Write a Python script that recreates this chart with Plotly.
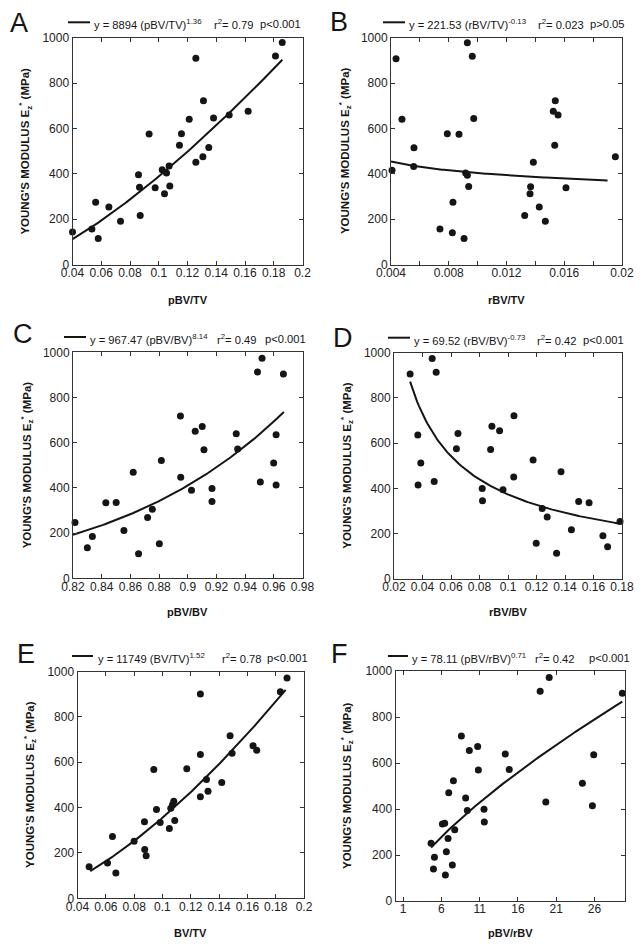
import numpy as np
import plotly.graph_objects as go

W, H = 643, 948

# ---------------- data ----------------
a_x = [0.0400, 0.0535, 0.0561, 0.0579, 0.0653, 0.0734, 0.0859, 0.0866, 0.0871, 0.0933,
       0.0975, 0.1024, 0.1040, 0.1054, 0.1072, 0.1077, 0.1144, 0.1158, 0.1212, 0.1258,
       0.1258, 0.1307, 0.1311, 0.1348, 0.1381, 0.1490, 0.1622, 0.1812, 0.1859]
a_y = [143, 157, 275, 115, 253, 191, 396, 341, 216, 575, 338, 418, 312, 403, 434, 346,
       526, 576, 640, 909, 451, 475, 722, 516, 646, 659, 676, 919, 979]

b_x = [0.00407, 0.00435, 0.00476, 0.00559, 0.00557, 0.00739, 0.00790, 0.00825, 0.00829,
       0.00871, 0.00906, 0.00917, 0.00929, 0.00929, 0.00938, 0.00963, 0.00973, 0.01326,
       0.01363, 0.01367, 0.01386, 0.01427, 0.01469, 0.01524, 0.01534, 0.01538, 0.01557,
       0.01612, 0.01954]
b_y = [416, 907, 640, 515, 432, 157, 576, 140, 275, 574, 115, 403, 394, 978, 344, 918,
       644, 216, 312, 343, 451, 254, 191, 676, 526, 722, 659, 338, 475]

c_x = [0.8214, 0.8300, 0.8335, 0.8429, 0.8501, 0.8555, 0.8620, 0.8657, 0.8720, 0.8753,
       0.8802, 0.8816, 0.8949, 0.8951, 0.9026, 0.9052, 0.9101, 0.9113, 0.9169, 0.9169,
       0.9338, 0.9348, 0.9486, 0.9506, 0.9518, 0.9599, 0.9616, 0.9616, 0.9667]
c_y = [247, 135, 185, 334, 335, 212, 469, 109, 269, 306, 153, 521, 718, 447, 390, 651,
       672, 569, 397, 340, 640, 572, 913, 426, 974, 510, 635, 413, 904]

d_x = [0.0313, 0.0367, 0.0369, 0.0388, 0.0468, 0.0482, 0.0496, 0.0638, 0.0649, 0.0819,
       0.0821, 0.0878, 0.0887, 0.0941, 0.0965, 0.1042, 0.1040, 0.1176, 0.1198, 0.1240,
       0.1275, 0.1341, 0.1372, 0.1445, 0.1496, 0.1569, 0.1666, 0.1699, 0.1786]
d_y = [905, 636, 415, 512, 974, 430, 913, 575, 642, 400, 345, 572, 674, 655, 394, 721,
       450, 525, 158, 311, 274, 114, 474, 217, 342, 337, 191, 142, 254]

e_x = [0.0482, 0.0612, 0.0647, 0.0671, 0.0800, 0.0873, 0.0875, 0.0885, 0.0939, 0.0958,
       0.0984, 0.1049, 0.1059, 0.1071, 0.1080, 0.1087, 0.1172, 0.1268, 0.1268, 0.1268,
       0.1311, 0.1322, 0.1419, 0.1478, 0.1492, 0.1640, 0.1666, 0.1833, 0.1880]
e_y = [139, 156, 272, 112, 251, 337, 215, 188, 568, 391, 334, 308, 397, 413, 428, 343,
       571, 901, 634, 448, 524, 472, 511, 717, 639, 673, 653, 911, 971]

f_x = [4.65, 4.96, 5.09, 6.13, 6.43, 6.52, 6.65, 6.87, 6.96, 7.43, 7.57, 7.74, 8.61, 9.17,
       9.39, 9.65, 10.74, 10.83, 11.57, 11.61, 14.35, 14.87, 18.91, 19.65, 20.09, 24.43,
       25.74, 25.91, 29.65]
f_y = [251, 139, 190, 335, 338, 113, 214, 272, 471, 157, 523, 310, 717, 448, 393, 654,
       672, 570, 399, 343, 639, 572, 912, 430, 972, 512, 414, 636, 903]

# power-law fits y = k * x^n (as printed in each panel), and x-span of each fitted line
fit_k = [8894, 221.53, 967.47, 69.52, 11749, 78.11]
fit_n = [1.36, -0.13, 8.14, -0.73, 1.52, 0.71]
fit_lo = [0.0400, 0.0040, 0.8200, 0.0313, 0.0490, 4.65]
fit_hi = [0.1860, 0.0190, 0.9670, 0.1780, 0.1870, 29.65]

letters = ["A", "B", "C", "D", "E", "F"]
x_titles = ["pBV/TV", "rBV/TV", "pBV/BV", "rBV/BV", "BV/TV", "pBV/rBV"]
eq_texts = ["y = 8894 (pBV/TV)<sup>1.36</sup>",
            "y = 221.53 (rBV/TV)<sup>-0.13</sup>",
            "y = 967.47 (pBV/BV)<sup>8.14</sup>",
            "y = 69.52 (rBV/BV)<sup>-0.73</sup>",
            "y = 11749 (BV/TV)<sup>1.52</sup>",
            "y = 78.11 (pBV/rBV)<sup>0.71</sup>"]
r2_texts = ["0.79", "0.023", "0.49", "0.42", "0.78", "0.42"]
p_texts = ["p&lt;0.001", "p&gt;0.05", "p&lt;0.001", "p&lt;0.001", "p&lt;0.001", "p&lt;0.001"]

x_ranges = [[0.04, 0.2], [0.004, 0.02], [0.82, 0.98], [0.02, 0.18], [0.04, 0.2], [0, 30]]
x_tickvals = [[0.04, 0.06, 0.08, 0.1, 0.12, 0.14, 0.16, 0.18, 0.2],
              [0.004, 0.008, 0.012, 0.016, 0.02],
              [0.82, 0.84, 0.86, 0.88, 0.9, 0.92, 0.94, 0.96, 0.98],
              [0.02, 0.04, 0.06, 0.08, 0.1, 0.12, 0.14, 0.16, 0.18],
              [0.04, 0.06, 0.08, 0.1, 0.12, 0.14, 0.16, 0.18, 0.2],
              [1, 6, 11, 16, 21, 26]]
x_ticktext = [["0.04", "0.06", "0.08", "0.1", "0.12", "0.14", "0.16", "0.18", "0.2"],
              ["0.004", "0.008", "0.012", "0.016", "0.02"],
              ["0.82", "0.84", "0.86", "0.88", "0.9", "0.92", "0.94", "0.96", "0.98"],
              ["0.02", "0.04", "0.06", "0.08", "0.1", "0.12", "0.14", "0.16", "0.18"],
              ["0.04", "0.06", "0.08", "0.1", "0.12", "0.14", "0.16", "0.18", "0.2"],
              ["1", "6", "11", "16", "21", "26"]]
b_minor_ticks = [0.006, 0.010, 0.014, 0.018]
y_tickvals = [0, 200, 400, 600, 800, 1000]
y_ticktext = ["0", "200", "400", "600", "800", "1000"]
y_range = [0, 1000]

xs_data = [a_x, b_x, c_x, d_x, e_x, f_x]
ys_data = [a_y, b_y, c_y, d_y, e_y, f_y]

# ---------------- layout geometry (pixels) ----------------
# plot frames: (left, right, top, bottom)
frames = [(72.5, 302.5, 37.7, 264.5),
          (391.0, 622.0, 37.7, 264.5),
          (73.0, 302.5, 352.3, 578.3),
          (394.0, 622.0, 352.5, 579.0),
          (77.5, 304.0, 671.5, 898.3),
          (395.5, 625.0, 671.0, 901.0)]
letter_pos = [(19, 22.5), (338.5, 22), (22.5, 334), (342.5, 337.5), (26, 653.5), (340, 654)]
leg_line = [(68, 90, 22.3), (383, 405, 22.3), (64, 86, 337), (388, 410, 337.7),
            (72, 93, 656), (388, 408, 656)]
eq_x = [92, 407.3, 88.3, 411.7, 96, 410]
r2_x = [212, 536, 215, 535, 220, 533.3]
p_xr = [303.3, 627.3, 308.3, 626, 310, 631.7]
ytitle_x = [25.5, 345, 27, 347, 30, 347]
xtitle_y = [300, 300, 611.7, 612, 933, 933]

FONT = "Arial, Liberation Sans, sans-serif"
INK = "#151515"
AX = "#333333"
LEG_SIZE = 11.2


def px(x):
    return x / W


def py(y):
    return 1 - y / H


fig = go.Figure()
layout = dict(width=W, height=H, margin=dict(l=0, r=0, t=0, b=0, pad=0),
              autosize=False,
              paper_bgcolor="white", plot_bgcolor="white", showlegend=False,
              font=dict(family=FONT, size=12, color="#222"))
annotations = []
shapes = []

for i in range(6):
    s = "" if i == 0 else str(i + 1)
    L, R, T, B = frames[i]
    fig.add_trace(go.Scatter(x=xs_data[i], y=ys_data[i], mode="markers",
                             marker=dict(size=7, color=INK), cliponaxis=False,
                             xaxis="x" + s, yaxis="y" + s))
    xl = np.linspace(fit_lo[i], fit_hi[i], 120)
    fig.add_trace(go.Scatter(x=xl, y=fit_k[i] * xl ** fit_n[i], mode="lines",
                             line=dict(color=INK, width=2), cliponaxis=False,
                             xaxis="x" + s, yaxis="y" + s))
    common = dict(showline=True, linecolor=AX, linewidth=1, mirror="ticks",
                  ticks="inside", ticklen=4, tickcolor=AX, tickwidth=1,
                  showgrid=False, zeroline=False, tickfont=dict(size=12, color="#222"),
                  tickmode="array", automargin=False)
    xa = dict(common, domain=[px(L), px(R)], range=x_ranges[i], anchor="y" + s,
              tickvals=x_tickvals[i], ticktext=x_ticktext[i], ticklabelstandoff=-3)
    if i == 1:
        xa["minor"] = dict(tickmode="array", tickvals=b_minor_ticks, ticks="inside",
                           ticklen=4, tickcolor=AX)
    ya = dict(common, domain=[py(B), py(T)], range=y_range, anchor="x" + s,
              tickvals=y_tickvals, ticktext=y_ticktext)
    layout["xaxis" + s] = xa
    layout["yaxis" + s] = ya

    # panel letter
    annotations.append(dict(xref="paper", yref="paper", x=px(letter_pos[i][0]),
                            y=py(letter_pos[i][1]), text=letters[i], showarrow=False,
                            xanchor="center", yanchor="middle",
                            font=dict(size=27, color=INK, family=FONT)))
    # legend line sample
    x0, x1, yl = leg_line[i]
    shapes.append(dict(type="line", xref="paper", yref="paper", x0=px(x0), x1=px(x1),
                       y0=py(yl), y1=py(yl), line=dict(color=INK, width=2)))
    ty = py(yl + 2)
    annotations.append(dict(xref="paper", yref="paper", x=px(eq_x[i]), y=ty,
                            text=eq_texts[i], showarrow=False, xanchor="left",
                            yanchor="middle", font=dict(size=LEG_SIZE, color=INK)))
    annotations.append(dict(xref="paper", yref="paper", x=px(r2_x[i]), y=ty,
                            text="r<sup>2</sup>= " + r2_texts[i], showarrow=False,
                            xanchor="left", yanchor="middle",
                            font=dict(size=LEG_SIZE, color=INK)))
    annotations.append(dict(xref="paper", yref="paper", x=px(p_xr[i]), y=ty,
                            text=p_texts[i], showarrow=False, xanchor="right",
                            yanchor="middle", font=dict(size=LEG_SIZE, color=INK)))
    # axis titles
    annotations.append(dict(xref="paper", yref="paper", x=px(ytitle_x[i]),
                            y=py((T + B) / 2),
                            text="<b>YOUNG'S MODULUS E<sub>z</sub><sup>*</sup> (MPa)</b>",
                            textangle=-90, showarrow=False, xanchor="center",
                            yanchor="middle", font=dict(size=11.5, color=INK)))
    annotations.append(dict(xref="paper", yref="paper", x=px((L + R) / 2),
                            y=py(xtitle_y[i]), text="<b>" + x_titles[i] + "</b>",
                            showarrow=False, xanchor="center", yanchor="middle",
                            font=dict(size=11, color=INK)))

layout["annotations"] = annotations
layout["shapes"] = shapes
fig.update_layout(**layout)
# the page's default 8px body margin would shift the 643x948 figure; remove it
fig.write_html("out.html",
               config={"displayModeBar": False},
               post_script="document.body.style.margin='0px';"
                           "document.documentElement.style.overflow='hidden';")
